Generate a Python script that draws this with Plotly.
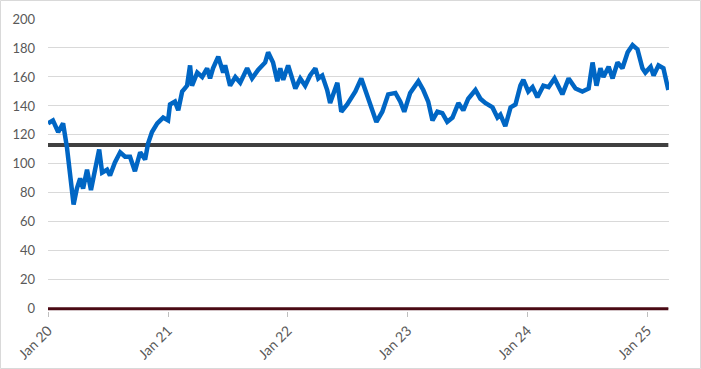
import plotly.graph_objects as go

dates = [
    "2020-01-01", "2020-01-16", "2020-02-01", "2020-02-16", "2020-02-28", "2020-03-08", "2020-03-19",
    "2020-03-29", "2020-04-08", "2020-04-17", "2020-04-29", "2020-05-11", "2020-05-23", "2020-06-05",
    "2020-06-14", "2020-06-29", "2020-07-08", "2020-07-23", "2020-08-08", "2020-08-23", "2020-09-07",
    "2020-09-22", "2020-10-08", "2020-10-23", "2020-11-01", "2020-11-13", "2020-11-29", "2020-12-17",
    "2021-01-01", "2021-01-07", "2021-01-22", "2021-02-01", "2021-02-13", "2021-02-28", "2021-03-09",
    "2021-03-15", "2021-03-31", "2021-04-15", "2021-04-30", "2021-05-09", "2021-05-18", "2021-06-03",
    "2021-06-18", "2021-06-24", "2021-07-09", "2021-07-25", "2021-08-09", "2021-08-30", "2021-09-14",
    "2021-10-03", "2021-10-24", "2021-11-02", "2021-11-17", "2021-11-30", "2021-12-09", "2021-12-18",
    "2022-01-02", "2022-01-24", "2022-02-08", "2022-02-23", "2022-03-10", "2022-03-26", "2022-04-04",
    "2022-04-16", "2022-05-01", "2022-05-10", "2022-06-01", "2022-06-13", "2022-07-01", "2022-07-26",
    "2022-08-13", "2022-08-31", "2022-09-09", "2022-09-28", "2022-10-16", "2022-11-03", "2022-11-25",
    "2022-12-10", "2022-12-22", "2023-01-09", "2023-02-03", "2023-02-18", "2023-03-05", "2023-03-18",
    "2023-04-02", "2023-04-17", "2023-05-02", "2023-05-18", "2023-06-05", "2023-06-20", "2023-07-05",
    "2023-07-27", "2023-08-11", "2023-08-26", "2023-09-17", "2023-10-02", "2023-10-11", "2023-10-26",
    "2023-11-11", "2023-11-26", "2023-12-11", "2023-12-20", "2024-01-04", "2024-01-17", "2024-02-01",
    "2024-02-19", "2024-03-06", "2024-03-24", "2024-04-17", "2024-05-06", "2024-05-27", "2024-06-17",
    "2024-07-06", "2024-07-18", "2024-07-30", "2024-08-11", "2024-08-20", "2024-09-05", "2024-09-17",
    "2024-10-02", "2024-10-17", "2024-11-02", "2024-11-17", "2024-12-02", "2024-12-17", "2024-12-26",
    "2025-01-11", "2025-01-20", "2025-02-04", "2025-02-19", "2025-03-06",
]

values = [
    128, 130, 122, 128, 111, 92, 72,
    83, 90, 83, 96, 82, 97, 110,
    94, 96, 92, 101, 108, 105, 105,
    95, 108, 103, 114, 122, 128, 132,
    130, 141, 143, 137, 150, 154, 168,
    154, 163, 160, 166, 159, 166, 174,
    163, 168, 154, 160, 156, 166, 159,
    165, 170, 177, 170, 157, 166, 158,
    168, 152, 159, 154, 161, 166, 159,
    161, 151, 142, 156, 136, 141, 150,
    159, 148, 141, 129, 136, 148, 149,
    143, 136, 149, 157, 151, 143, 130,
    136, 135, 129, 132, 142, 137, 145,
    151, 145, 142, 139, 132, 134, 126,
    139, 141, 154, 158, 150, 153, 146,
    154, 153, 159, 148, 159, 152, 150,
    152, 170, 154, 166, 160, 167, 159,
    170, 166, 177, 182, 179, 166, 163,
    167, 161, 168, 166, 151,
]

average_level = 113
zero_level = 0
range_start = "2020-01-01"
range_end = "2025-03-08"
y_ticks = [0, 20, 40, 60, 80, 100, 120, 140, 160, 180, 200]

W, H = 701, 369
ML, MR, MT, MB = 48, 32, 19, 58
PW, PH = W - ML - MR, H - MT - MB

fig = go.Figure()
fig.add_trace(go.Scatter(
    x=[dates[0], dates[-1]], y=[zero_level, zero_level], mode="lines",
    line=dict(color="#4a0a14", width=3), hoverinfo="skip", showlegend=False))
fig.add_trace(go.Scatter(
    x=[dates[0], dates[-1]], y=[average_level, average_level], mode="lines",
    line=dict(color="#404040", width=4), hoverinfo="skip", showlegend=False))
fig.add_trace(go.Scatter(
    x=dates, y=values, mode="lines",
    line=dict(color="#0066c4", width=4.5, shape="linear"), showlegend=False))

fig.update_layout(
    width=W, height=H,
    margin=dict(l=ML, r=MR, t=MT, b=MB, pad=0, autoexpand=False),
    paper_bgcolor="white", plot_bgcolor="white",
    font=dict(family="Lato, Liberation Sans, sans-serif", size=12, color="#595959"),
    xaxis=dict(
        type="date", range=[range_start, range_end], automargin=False,
        tick0="2020-01-01", dtick="M12", tickformat="%b %y",
        tickangle=-45, ticks="outside", ticklen=5, tickcolor="#bfbfbf",
        showgrid=False, zeroline=False, showline=False,
        tickfont=dict(size=14, color="#595959"),
    ),
    yaxis=dict(
        range=[-1.5, 200], tickvals=y_ticks, automargin=False,
        showgrid=True, gridcolor="#d9d9d9", gridwidth=1,
        zeroline=False, showline=False, ticks="",
        ticklabelstandoff=12,
        tickfont=dict(size=13, color="#595959"),
    ),
    shapes=[dict(
        type="rect", xref="paper", yref="paper",
        x0=(0.5 - ML) / PW, x1=(W - 0.5 - ML) / PW,
        y0=-(MB - 0.5) / PH, y1=1 + (MT - 0.5) / PH,
        line=dict(color="#d9d9d9", width=1), fillcolor="rgba(0,0,0,0)", layer="below",
    )],
)

fig.write_html(
    "out.html",
    config={"displayModeBar": False},
    post_script="document.body.style.margin='0';document.body.style.overflow='hidden';",
)
